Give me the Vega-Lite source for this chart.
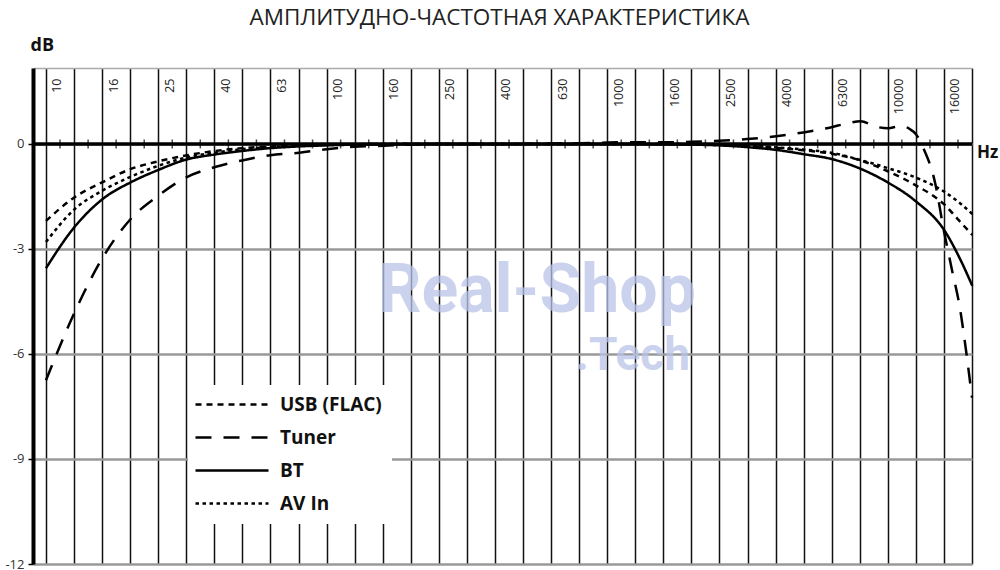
{
  "$schema": "https://vega.github.io/schema/vega-lite/v6.json",
  "width": 939,
  "height": 496,
  "autosize": {"type": "none"},
  "padding": {"left": 33, "top": 68, "right": 28, "bottom": 6},
  "background": "white",
  "title": {"text": "АМПЛИТУДНО-ЧАСТОТНАЯ ХАРАКТЕРИСТИКА", "font": "Open Sans", "fontSize": 22.5, "fontWeight": "normal", "color": "#222", "anchor": "middle", "offset": 18, "dy": 29, "dx": -3, "baseline": "alphabetic"},
  "config": {"view": {"stroke": null}},
  "datasets": {
    "curves": [
      {"s": "USB (FLAC)", "f": 10, "db": -2.2}, {"s": "USB (FLAC)", "f": 12.5, "db": -1.55}, {"s": "USB (FLAC)", "f": 16, "db": -1.08}, {"s": "USB (FLAC)", "f": 20, "db": -0.72}, {"s": "USB (FLAC)", "f": 25, "db": -0.5}, {"s": "USB (FLAC)", "f": 31.5, "db": -0.33}, {"s": "USB (FLAC)", "f": 40, "db": -0.2}, {"s": "USB (FLAC)", "f": 50, "db": -0.12}, {"s": "USB (FLAC)", "f": 63, "db": -0.07}, {"s": "USB (FLAC)", "f": 80, "db": -0.04}, {"s": "USB (FLAC)", "f": 100, "db": -0.02}, {"s": "USB (FLAC)", "f": 125, "db": -0.01}, {"s": "USB (FLAC)", "f": 160, "db": 0}, {"s": "USB (FLAC)", "f": 250, "db": 0}, {"s": "USB (FLAC)", "f": 400, "db": 0}, {"s": "USB (FLAC)", "f": 630, "db": 0}, {"s": "USB (FLAC)", "f": 1000, "db": 0}, {"s": "USB (FLAC)", "f": 1600, "db": 0}, {"s": "USB (FLAC)", "f": 2000, "db": -0.01}, {"s": "USB (FLAC)", "f": 2500, "db": -0.03}, {"s": "USB (FLAC)", "f": 3150, "db": -0.06}, {"s": "USB (FLAC)", "f": 4000, "db": -0.11}, {"s": "USB (FLAC)", "f": 5000, "db": -0.18}, {"s": "USB (FLAC)", "f": 6300, "db": -0.28}, {"s": "USB (FLAC)", "f": 8000, "db": -0.47}, {"s": "USB (FLAC)", "f": 10000, "db": -0.78}, {"s": "USB (FLAC)", "f": 12500, "db": -1.17}, {"s": "USB (FLAC)", "f": 16000, "db": -1.75}, {"s": "USB (FLAC)", "f": 18000, "db": -2.2}, {"s": "USB (FLAC)", "f": 20000, "db": -2.6},
      {"s": "Tuner", "f": 10, "db": -6.75}, {"s": "Tuner", "f": 12.5, "db": -4.9}, {"s": "Tuner", "f": 16, "db": -3.22}, {"s": "Tuner", "f": 20, "db": -2.15}, {"s": "Tuner", "f": 25, "db": -1.49}, {"s": "Tuner", "f": 31.5, "db": -0.96}, {"s": "Tuner", "f": 40, "db": -0.66}, {"s": "Tuner", "f": 50, "db": -0.47}, {"s": "Tuner", "f": 63, "db": -0.32}, {"s": "Tuner", "f": 80, "db": -0.25}, {"s": "Tuner", "f": 100, "db": -0.15}, {"s": "Tuner", "f": 125, "db": -0.08}, {"s": "Tuner", "f": 160, "db": -0.05}, {"s": "Tuner", "f": 200, "db": -0.02}, {"s": "Tuner", "f": 250, "db": 0}, {"s": "Tuner", "f": 400, "db": 0}, {"s": "Tuner", "f": 630, "db": 0.01}, {"s": "Tuner", "f": 800, "db": 0.02}, {"s": "Tuner", "f": 1000, "db": 0.04}, {"s": "Tuner", "f": 1250, "db": 0.05}, {"s": "Tuner", "f": 1600, "db": 0.05}, {"s": "Tuner", "f": 2000, "db": 0.06}, {"s": "Tuner", "f": 2500, "db": 0.09}, {"s": "Tuner", "f": 3150, "db": 0.14}, {"s": "Tuner", "f": 4000, "db": 0.22}, {"s": "Tuner", "f": 5000, "db": 0.33}, {"s": "Tuner", "f": 6300, "db": 0.48}, {"s": "Tuner", "f": 7100, "db": 0.58}, {"s": "Tuner", "f": 8000, "db": 0.65}, {"s": "Tuner", "f": 9000, "db": 0.5}, {"s": "Tuner", "f": 10000, "db": 0.45}, {"s": "Tuner", "f": 11200, "db": 0.52}, {"s": "Tuner", "f": 12000, "db": 0.42}, {"s": "Tuner", "f": 12600, "db": 0.28}, {"s": "Tuner", "f": 13350, "db": -0.1}, {"s": "Tuner", "f": 14730, "db": -1.1}, {"s": "Tuner", "f": 15860, "db": -2.5}, {"s": "Tuner", "f": 16930, "db": -3.6}, {"s": "Tuner", "f": 18080, "db": -4.7}, {"s": "Tuner", "f": 19000, "db": -5.9}, {"s": "Tuner", "f": 19953, "db": -7.25},
      {"s": "BT", "f": 10, "db": -3.55}, {"s": "BT", "f": 12.5, "db": -2.42}, {"s": "BT", "f": 16, "db": -1.56}, {"s": "BT", "f": 20, "db": -1.1}, {"s": "BT", "f": 25, "db": -0.75}, {"s": "BT", "f": 31.5, "db": -0.45}, {"s": "BT", "f": 40, "db": -0.3}, {"s": "BT", "f": 50, "db": -0.2}, {"s": "BT", "f": 63, "db": -0.12}, {"s": "BT", "f": 80, "db": -0.07}, {"s": "BT", "f": 100, "db": -0.04}, {"s": "BT", "f": 125, "db": -0.02}, {"s": "BT", "f": 160, "db": -0.01}, {"s": "BT", "f": 250, "db": 0}, {"s": "BT", "f": 400, "db": 0}, {"s": "BT", "f": 630, "db": 0}, {"s": "BT", "f": 1000, "db": 0}, {"s": "BT", "f": 1600, "db": -0.01}, {"s": "BT", "f": 2000, "db": -0.02}, {"s": "BT", "f": 2500, "db": -0.04}, {"s": "BT", "f": 3150, "db": -0.09}, {"s": "BT", "f": 4000, "db": -0.17}, {"s": "BT", "f": 5000, "db": -0.29}, {"s": "BT", "f": 6300, "db": -0.43}, {"s": "BT", "f": 8000, "db": -0.71}, {"s": "BT", "f": 10000, "db": -1.1}, {"s": "BT", "f": 12500, "db": -1.62}, {"s": "BT", "f": 16000, "db": -2.5}, {"s": "BT", "f": 18000, "db": -3.25}, {"s": "BT", "f": 20000, "db": -4.05},
      {"s": "AV In", "f": 10, "db": -2.8}, {"s": "AV In", "f": 12.5, "db": -1.9}, {"s": "AV In", "f": 16, "db": -1.32}, {"s": "AV In", "f": 20, "db": -0.94}, {"s": "AV In", "f": 25, "db": -0.63}, {"s": "AV In", "f": 31.5, "db": -0.39}, {"s": "AV In", "f": 40, "db": -0.25}, {"s": "AV In", "f": 50, "db": -0.15}, {"s": "AV In", "f": 63, "db": -0.09}, {"s": "AV In", "f": 80, "db": -0.05}, {"s": "AV In", "f": 100, "db": -0.03}, {"s": "AV In", "f": 125, "db": -0.01}, {"s": "AV In", "f": 160, "db": 0}, {"s": "AV In", "f": 250, "db": 0}, {"s": "AV In", "f": 400, "db": 0}, {"s": "AV In", "f": 630, "db": 0}, {"s": "AV In", "f": 1000, "db": 0}, {"s": "AV In", "f": 1600, "db": 0}, {"s": "AV In", "f": 2000, "db": -0.01}, {"s": "AV In", "f": 2500, "db": -0.02}, {"s": "AV In", "f": 3150, "db": -0.05}, {"s": "AV In", "f": 4000, "db": -0.1}, {"s": "AV In", "f": 5000, "db": -0.16}, {"s": "AV In", "f": 6300, "db": -0.25}, {"s": "AV In", "f": 8000, "db": -0.46}, {"s": "AV In", "f": 10000, "db": -0.69}, {"s": "AV In", "f": 12500, "db": -0.95}, {"s": "AV In", "f": 16000, "db": -1.38}, {"s": "AV In", "f": 18000, "db": -1.68}, {"s": "AV In", "f": 20000, "db": -2.0}
    ],
    "minor": [
      {"f": 11.22}, {"f": 14.13}, {"f": 17.78}, {"f": 22.39}, {"f": 28.18}, {"f": 35.48}, {"f": 44.67}, {"f": 56.23}, {"f": 70.79}, {"f": 89.13}, {"f": 112.2}, {"f": 141.3}, {"f": 177.8}, {"f": 223.9}, {"f": 281.8}, {"f": 354.8}, {"f": 446.7}, {"f": 562.3}, {"f": 707.9}, {"f": 891.3}, {"f": 1122}, {"f": 1413}, {"f": 1778}, {"f": 2239}, {"f": 2818}, {"f": 3548}, {"f": 4467}, {"f": 5623}, {"f": 7079}, {"f": 8913}, {"f": 11220}, {"f": 14130}, {"f": 17780}
    ]
  },
  "layer": [
    {
      "data": {"values": [{}]},
      "mark": {"type": "text", "text": "Real-Shop", "font": "Roboto", "fontSize": 68, "fontWeight": "bold", "color": "#b9c3e8", "opacity": 0.75, "align": "center", "baseline": "alphabetic"},
      "encoding": {"x": {"datum": 562, "type": "quantitative"}, "y": {"datum": -4.8, "type": "quantitative"}}
    },
    {
      "data": {"values": [{}]},
      "mark": {"type": "text", "text": ".Tech", "font": "Roboto", "fontSize": 46, "fontWeight": "bold", "color": "#b9c3e8", "opacity": 0.75, "align": "right", "baseline": "alphabetic"},
      "encoding": {"x": {"datum": 1972, "type": "quantitative"}, "y": {"datum": -6.46, "type": "quantitative"}}
    },
    {
      "data": {"values": [{}]},
      "mark": {"type": "rule", "color": "#000", "strokeWidth": 3.5},
      "encoding": {"y": {"datum": 0, "type": "quantitative"}}
    },
    {
      "data": {"name": "minor"},
      "mark": {"type": "tick", "orient": "vertical", "size": 9, "thickness": 1.5, "color": "#000"},
      "encoding": {"x": {"field": "f", "type": "quantitative"}, "y": {"datum": 0, "type": "quantitative"}}
    },
    {
      "data": {"name": "curves"},
      "mark": {"type": "line", "color": "#000", "strokeWidth": 2.5, "interpolate": "monotone"},
      "encoding": {
        "x": {"field": "f", "type": "quantitative",
          "scale": {"type": "log", "domain": [8.99, 19953], "nice": false},
          "axis": {"orient": "top", "title": null,
            "values": [10, 12.589, 15.849, 19.953, 25.119, 31.623, 39.811, 50.119, 63.096, 79.433, 100, 125.89, 158.49, 199.53, 251.19, 316.23, 398.11, 501.19, 630.96, 794.33, 1000, 1258.9, 1584.9, 1995.3, 2511.9, 3162.3, 3981.1, 5011.9, 6309.6, 7943.3, 10000, 12589, 15849, 19953],
            "labelExpr": "(round(10*log(datum.value)/LN10) % 2 == 0 && datum.value < 19000) ? '' + round([1, 1.6, 2.5, 4, 6.3][(round(10*log(datum.value)/LN10) % 10) / 2] * pow(10, floor(round(10*log(datum.value)/LN10) / 10))) : ''",
            "grid": true, "gridColor": "#111", "gridWidth": 1.5,
            "ticks": false, "domain": true, "domainColor": "#aaa", "domainWidth": 1.5,
            "labelAngle": 270, "labelAlign": "right", "labelBaseline": "middle", "labelPadding": -10, "labelOffset": 11,
            "labelFont": "Open Sans", "labelFontSize": 12.5, "labelColor": "#222",
            "labelOverlap": false, "labelFlush": false, "labelBound": false}},
        "y": {"field": "db", "type": "quantitative",
          "scale": {"domain": [-12, 2.17], "nice": false, "zero": false},
          "axis": {"values": [-12, -9, -6, -3, 0], "labelExpr": "'' + datum.value", "title": "dB", "titleAngle": 0, "titleAlign": "left", "titleBaseline": "alphabetic", "titleX": -3, "titleY": -18,
            "titleFont": "Open Sans", "titleFontSize": 18, "titleFontWeight": "bold", "titleColor": "#111",
            "grid": true, "gridColor": "#999", "gridWidth": 2.5,
            "domain": true, "domainColor": "#000", "domainWidth": 4,
            "ticks": true, "tickColor": "#000", "tickSize": 5, "tickWidth": 1.5,
            "labelFont": "Open Sans", "labelFontSize": 13, "labelColor": "#333", "labelPadding": 4,
            "labelFlush": false, "labelOverlap": false}},
        "strokeDash": {"field": "s", "type": "nominal",
          "scale": {"domain": ["USB (FLAC)", "Tuner", "BT", "AV In"], "range": [[6, 5], [16, 12], [1, 0], [3.5, 3.5]]},
          "legend": {"title": null, "orient": "none", "legendX": 155, "legendY": 317, "fillColor": "white", "padding": 10,
            "symbolType": "M0,0H73", "symbolSize": 4, "symbolOffset": -12, "symbolStrokeWidth": 2.5, "symbolStrokeColor": "#000",
            "labelFont": "Open Sans", "labelFontSize": 19, "labelFontWeight": "bold", "labelColor": "#111", "labelOffset": 75,
            "rowPadding": 13, "labelLimit": 300}}
      }
    },
    {
      "data": {"values": [{}]},
      "mark": {"type": "text", "text": "Hz", "align": "left", "baseline": "middle", "dx": 5, "dy": 9, "font": "Open Sans", "fontSize": 17, "fontWeight": "bold", "color": "#111"},
      "encoding": {"x": {"datum": 19953, "type": "quantitative"}, "y": {"datum": 0, "type": "quantitative"}}
    }
  ]
}
